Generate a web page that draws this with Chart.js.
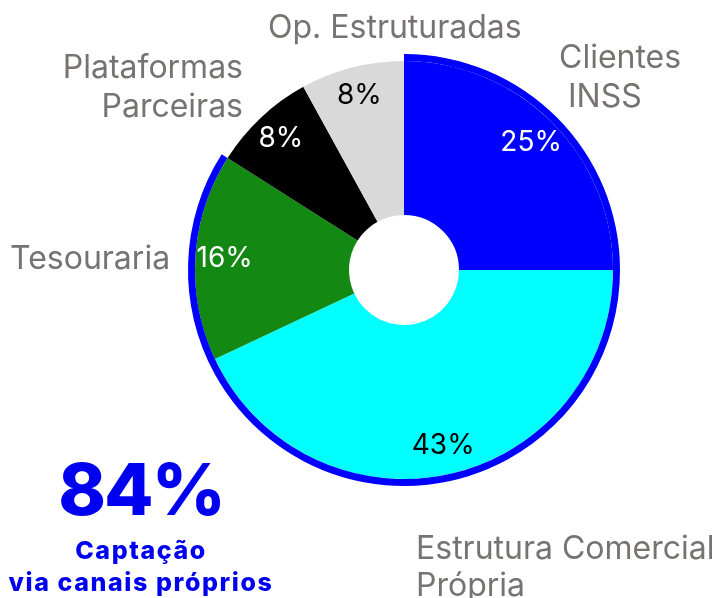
<!DOCTYPE html>
<html>
<head>
<meta charset="utf-8">
<script src="https://cdn.jsdelivr.net/npm/chart.js@4.4.0/dist/chart.umd.min.js"></script>
<style>
  body { margin: 0; background: #fff; }
  #wrap { position: relative; width: 717px; height: 598px; overflow: hidden; }
  #chart { position: absolute; left: 0; top: 0; }
  .lbl { position: absolute; font-family: Inter, sans-serif; font-size: 32px; line-height: 32px; color: #787373; white-space: nowrap; }
  .big { position: absolute; font-family: Inter, sans-serif; color: #0000f0; font-weight: 800; text-align: center; white-space: nowrap; }
</style>
</head>
<body>
<div id="wrap">
  <canvas id="chart" width="717" height="598"></canvas>
  <div class="lbl" style="left:268px; top:11px;">Op. Estruturadas</div>
  <div class="lbl" style="left:559px; top:41px;">Clientes</div>
  <div class="lbl" style="left:568px; top:80px;">INSS</div>
  <div class="lbl" style="right:474px; top:51px;">Plataformas</div>
  <div class="lbl" style="right:474px; top:90px;">Parceiras</div>
  <div class="lbl" style="left:10px; top:242px;">Tesouraria</div>
  <div class="lbl" style="left:416px; top:532px;">Estrutura Comercial</div>
  <div class="lbl" style="left:416px; top:569px;">Própria</div>
  <div class="big" style="left:0; width:282px; top:449px; font-size:72px; line-height:80px; letter-spacing:-2px;">84%</div>
  <div class="big" style="left:0; width:282px; top:535px; font-size:25px; line-height:30px; letter-spacing:1.6px;">Captação</div>
  <div class="big" style="left:0; width:282px; top:567px; font-size:25px; line-height:30px; letter-spacing:1.6px;">via canais próprios</div>
</div>
<script>
// -- DATA
const categories = ["Clientes INSS", "Estrutura Comercial Própria", "Tesouraria", "Plataformas Parceiras", "Op. Estruturadas"];
const shares = [25, 43, 16, 8, 8];
const sliceColors = ["#0000ff", "#00ffff", "#138813", "#000000", "#d9d9d9"];
const labelColors = ["#ffffff", "#000000", "#ffffff", "#ffffff", "#000000"];
// outer ring: own channels vs the rest
const ownChannels = [84, 16];

// draws the % inside each slice
const pctLabels = {
    id: "pctLabels",
    afterDatasetsDraw(chart) {
        const ctx = chart.ctx;
        const meta = chart.getDatasetMeta(1);
        ctx.save();
        ctx.font = "28px Inter, sans-serif";
        ctx.textAlign = "center";
        ctx.textBaseline = "middle";
        meta.data.forEach((arc, i) => {
            const p = arc.getProps(["x", "y", "startAngle", "endAngle", "innerRadius", "outerRadius"], true);
            const a = (p.startAngle + p.endAngle) / 2;
            const r = p.innerRadius + (p.outerRadius - p.innerRadius) * 0.81;
            ctx.fillStyle = labelColors[i];
            ctx.fillText(shares[i] + "%", p.x + Math.cos(a) * r, p.y + Math.sin(a) * r);
        });
        ctx.restore();
    }
};

const chart = new Chart(document.getElementById("chart"), {
    type: "doughnut",
    data: {
        labels: categories,
        datasets: [
            {
                data: ownChannels,
                backgroundColor: ["#0000ff", "rgba(0,0,0,0)"],
                borderWidth: 0,
                weight: 7
            },
            {
                data: shares,
                backgroundColor: sliceColors,
                borderWidth: 0,
                weight: 154
            }
        ]
    },
    options: {
        responsive: false,
        animation: false,
        cutout: 55,
        layout: { padding: { left: 188, right: 97, top: 54, bottom: 112 } },
        plugins: {
            legend: { display: false },
            tooltip: { enabled: false }
        }
    },
    plugins: [pctLabels]
});
</script>
</body>
</html>
